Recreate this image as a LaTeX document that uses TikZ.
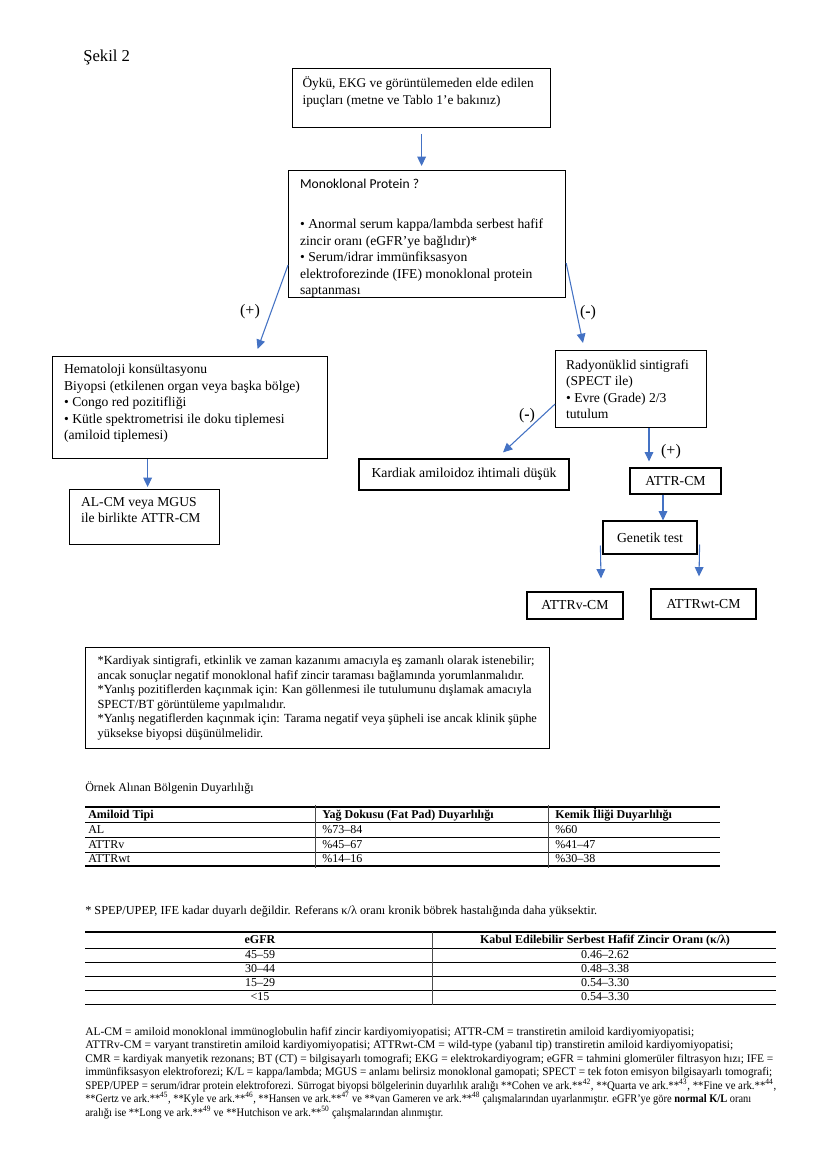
\documentclass[tikz,border=0pt]{standalone}
\usepackage{fontspec}
\setmainfont{Liberation Serif}
\newfontfamily\calibri{Carlito}
\usepackage{tikz}
\usetikzlibrary{arrows.meta,shapes,calc}
\definecolor{flowblue}{RGB}{68,114,196}
\newlength\upx
\setlength\upx{0.75pt}
\newcommand{\lowpad}[1]{\rule[-#1\upx]{0pt}{#1\upx}}
\newcommand{\toppad}[1]{\rule{0pt}{#1\upx}}
\newcommand{\fsz}[2]{\fontsize{#1}{#2}\selectfont}
\newcommand{\fitline}[2]{\resizebox{#1\upx}{\height}{#2}}
\tikzstyle{box}=[draw,line width=0.9pt,rectangle,anchor=north west,inner xsep=11.5\upx,inner ysep=0pt,align=flush left,font=\fsz{10.2}{12.4}]
\tikzstyle{tag}=[draw,line width=0.9pt,rectangle,inner sep=0pt,align=center,font=\fsz{10.3}{12.4}]
\tikzstyle{flow}=[draw,line width=0.8pt,flowblue,-{Triangle[length=7pt,width=6.5pt]}]
\tikzstyle{sign}=[inner sep=0pt,font=\fsz{12}{14}]
\tikzstyle{cell}=[inner sep=0pt,anchor=west,text height=7pt,text depth=2pt,font=\fsz{9}{11}]
\tikzstyle{tabline}=[line width=0.5pt]

\begin{document}
\begin{tikzpicture}[x=0.75pt,y=-0.75pt]
    \fill[white] (0,0) rectangle (834,1155);
    \useasboundingbox (0,0) rectangle (834,1155);
    \node[anchor=west,inner sep=0pt,font=\fsz{12.5}{15}] (title) at (83,57) {Şekil 2};

    % First we draw the boxes of the flow chart
    \node[box,text width=238\upx,minimum height=59\upx,inner xsep=10\upx,font=\fsz{10}{12.4}] (hist) at (292,68)
        {Öykü, EKG ve görüntülemeden elde edilen\\ ipuçları (metne ve Tablo 1’e bakınız)\lowpad{15}};
    \node[box,text width=254\upx,minimum height=127\upx] (mono) at (288,170)
        {{\calibri Monoklonal Protein ?}\toppad{18}\\[23.5\upx]
         • Anormal serum kappa/lambda serbest hafif\\ zincir oranı (eGFR’ye bağlıdır)*\\
         • Serum/idrar immünfiksasyon\\ elektroforezinde (IFE) monoklonal protein\\ saptanması};
    \node[box,text width=252\upx,minimum height=102\upx] (hema) at (52,356)
        {Hematoloji konsültasyonu\\ Biyopsi (etkilenen organ veya başka bölge)\\
         • Congo red pozitifliği\\ • Kütle spektrometrisi ile doku tiplemesi\\ (amiloid tiplemesi)\lowpad{11}};
    \node[box,text width=127\upx,minimum height=55\upx] (al) at (69,489)
        {AL-CM veya MGUS\\ ile birlikte ATTR-CM\lowpad{14}};
    \node[box,text width=130\upx,minimum height=77\upx,inner xsep=10.5\upx] (rad) at (555,350)
        {Radyonüklid sintigrafi\\ (SPECT ile)\\ • Evre (Grade) 2/3\\ tutulum};
    \foreach \pos/\w/\h/\name/\txt in {{(464,474.5)/210/31/kard/Kardiak amiloidoz ihtimali düşük},
        {(675.5,481)/91/26/attr/ATTR-CM}, {(650,537.5)/94/33/gen/Genetik test},
        {(575,605.5)/96/27/attrv/ATTRv-CM}, {(703.5,604)/105/30/attrwt/ATTRwt-CM}}
        \node[tag,minimum width=\w\upx,minimum height=\h\upx] (\name) at \pos {\txt};

    % Free ends of the arrows
    \coordinate (plustip) at ($(hema.north)+(67.5,-7)$);
    \coordinate (minustip) at ($(rad.north west)+(28,-7)$);
    \coordinate (altip) at ($(al.north)+(3,-2)$);
    \coordinate (kardtip) at ($(kard.north)+(39,-6)$);
    \coordinate (attrtip) at ($(attr.north)+(-26.5,-6)$);
    \coordinate (gentip) at ($(gen.north)+(13,0)$);
    \coordinate (vtip) at ($(attrv.north)+(26,-13)$);
    \coordinate (wttip) at ($(attrwt.north)+(-4.5,-12)$);

    % Connect boxes with arrows
    \draw[flow,shorten <=6\upx,shorten >=4\upx] (hist.south) -- (hist.south |- mono.north);
    \draw[flow] ($(mono.west)+(0,31)$) -- (plustip);
    \draw[flow] ($(mono.east)+(0,29)$) -- (minustip);
    \draw[flow] (altip |- hema.south) -- (altip);
    \draw[flow] ($(rad.west)+(0,15)$) -- (kardtip);
    \draw[flow] (attrtip |- rad.south) -- (attrtip);
    \draw[flow] (gentip |- attr.south) -- (gentip);
    \draw[flow] ($(gen.west)+(-2,8)$) -- (vtip);
    \draw[flow] ($(gen.east)+(2,7)$) -- (wttip);
    \foreach \pos/\name/\txt in {{(250,312)/plus1/(+)}, {(588,313)/minus1/(\textbf{-})},
        {(527,416)/minus2/(\textbf{-})}, {(671,452)/plus2/(+)}}
        \node[sign] (\name) at \pos {\txt};

    % Notes under the chart
    \node[box,text width=440\upx,minimum height=101\upx,inner xsep=12\upx,font=\fsz{9.3}{10.9}] (note) at (85,647)
        {*Kardiyak sintigrafi, etkinlik ve zaman kazanımı amacıyla eş zamanlı olarak istenebilir;\\
         ancak sonuçlar negatif monoklonal hafif zincir taraması bağlamında yorumlanmalıdır.\\
         {*}Yanlış pozitiflerden kaçınmak için: Kan göllenmesi ile tutulumunu dışlamak amacıyla\\
         SPECT/BT görüntüleme yapılmalıdır.\\
         {*}Yanlış negatiflerden kaçınmak için: Tarama negatif veya şüpheli ise ancak klinik şüphe\\
         yüksekse biyopsi düşünülmelidir.\toppad{2}};

    % Table of biopsy sites
    \node[cell] (sitetitle) at (85,788) {Örnek Alınan Bölgenin Duyarlılığı};
    \draw[tabline,line width=1pt] (85,807) -- (720,807);
    \foreach \y in {822,837,852}
        \draw[tabline] (85,\y) -- (720,\y);
    \draw[tabline,line width=1pt] (85,866) -- (720,866);
    \foreach \x in {315,548}
        \draw[tabline,black!70] (\x,805) -- (\x,868);
    \foreach \y/\a/\b/\c in {815/\textbf{Amiloid Tipi}/\textbf{Yağ Dokusu (Fat Pad) Duyarlılığı}/\textbf{Kemik İliği Duyarlılığı},
        830/AL/\%73--84/\%60, 845/ATTRv/\%45--67/\%41--47, 859/ATTRwt/\%14--16/\%30--38}
    {
        \node[cell] (type\y) at (88,\y) {\a};
        \node[cell] (fat\y) at (322,\y) {\b};
        \node[cell] (bone\y) at (555,\y) {\c};
    }

    % Table of kappa/lambda ratios
    \node[cell,font=\fsz{9.2}{11}] (ratiotitle) at (85,911) {* SPEP/UPEP, IFE kadar duyarlı değildir. Referans κ/λ oranı kronik böbrek hastalığında daha yüksektir.};
    \draw[tabline,line width=0.9pt] (85,932) -- (776,932);
    \foreach \y in {948,962,976,990,1004}
        \draw[tabline] (85,\y) -- (776,\y);
    \draw[tabline,black!70] (432,932) -- (432,1005);
    \foreach \y/\a/\b in {940/\textbf{eGFR}/\textbf{Kabul Edilebilir Serbest Hafif Zincir Oranı (κ/λ)},
        955/45--59/0.46--2.62, 969/30--44/0.48--3.38, 983/15--29/0.54--3.30, 997/<15/0.54--3.30}
    {
        \node[cell,anchor=center] (gfr\y) at (260,\y) {\a};
        \node[cell,anchor=center] (ratio\y) at (605,\y) {\b};
    }

    % Abbreviations
    \node[anchor=north west,align=flush left,inner sep=0pt,font=\fsz{8.7}{10.125}] (abbr) at (85,1027)
        {\fitline{609}{AL-CM = amiloid monoklonal immünoglobulin hafif zincir kardiyomiyopatisi; ATTR-CM = transtiretin amiloid kardiyomiyopatisi;}\\
         \fitline{648}{ATTRv-CM = varyant transtiretin amiloid kardiyomiyopatisi; ATTRwt-CM = wild-type (yabanıl tip) transtiretin amiloid kardiyomiyopatisi;}\\
         \fitline{688}{CMR = kardiyak manyetik rezonans; BT (CT) = bilgisayarlı tomografi; EKG = elektrokardiyogram; eGFR = tahmini glomerüler filtrasyon hızı; IFE =}\\
         \fitline{687}{immünfiksasyon elektroforezi; K/L = kappa/lambda; MGUS = anlamı belirsiz monoklonal gamopati; SPECT = tek foton emisyon bilgisayarlı tomografi;}\\
         \fitline{691}{SPEP/UPEP = serum/idrar protein elektroforezi. Sürrogat biyopsi bölgelerinin duyarlılık aralığı **Cohen ve ark.**\textsuperscript{42}, **Quarta ve ark.**\textsuperscript{43}, **Fine ve ark.**\textsuperscript{44},}\\
         \fitline{666}{**Gertz ve ark.**\textsuperscript{45}, **Kyle ve ark.**\textsuperscript{46}, **Hansen ve ark.**\textsuperscript{47} ve **van Gameren ve ark.**\textsuperscript{48} çalışmalarından uyarlanmıştır. eGFR’ye göre \textbf{normal K/L} oranı}\\
         \fitline{358}{aralığı ise **Long ve ark.**\textsuperscript{49} ve **Hutchison ve ark.**\textsuperscript{50} çalışmalarından alınmıştır.}};
\end{tikzpicture}
\end{document}
